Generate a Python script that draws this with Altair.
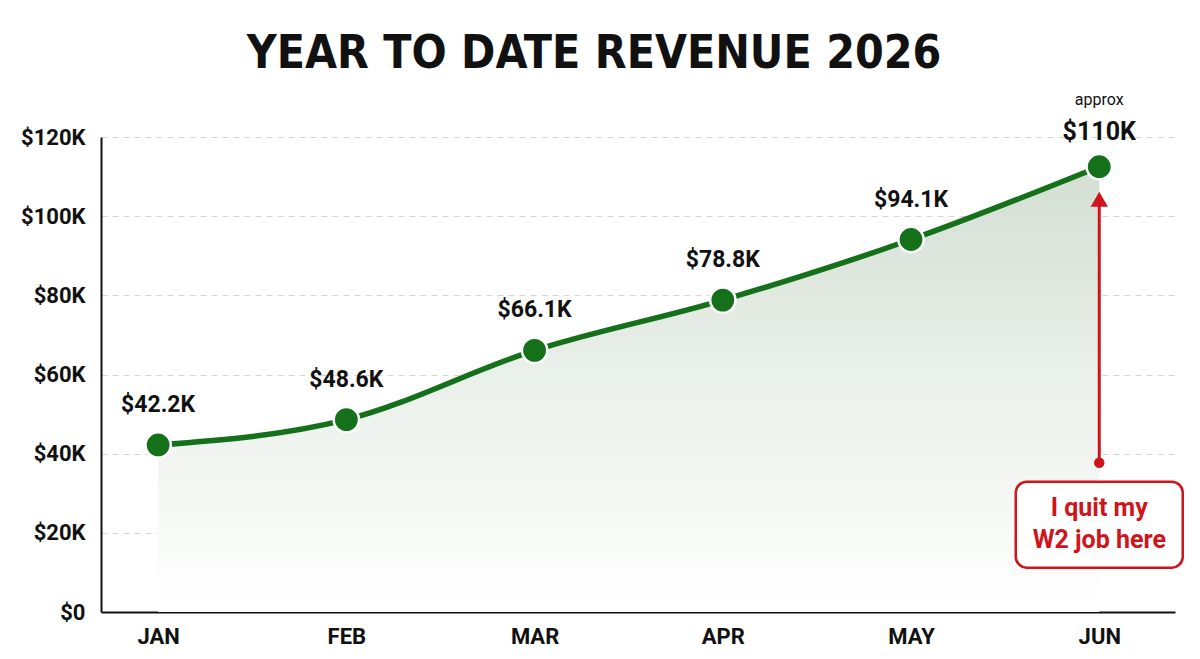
import altair as alt
import pandas as pd

months = ["JAN", "FEB", "MAR", "APR", "MAY", "JUN"]
revenue_k = [42.2, 48.6, 66.1, 78.8, 94.1, 112.5]
value_labels = ["$42.2K", "$48.6K", "$66.1K", "$78.8K", "$94.1K", "$110K"]
y_ticks = [0, 20, 40, 60, 80, 100, 120]

# annotation (in thousands of dollars, on the JUN column)
note_month = ["JUN"]
arrow_from_k = [37.7]
arrow_to_k = [104.0]
arrow_head_k = [104.3]
box_top_k = [32.9]
box_bottom_k = [11.2]
note_lines = ["I quit my", "W2 job here"]
note_line_k = [26.3, 18.2]
approx_text = ["approx"]

GREEN = "#15701a"
RED = "#d0141c"
FONT = "Roboto"

df = pd.DataFrame({"month": months, "rev": revenue_k, "label": value_labels})
main = df.iloc[:5]
last = df.iloc[5:]

x_enc = alt.X("month:N", sort=months,
              scale=alt.Scale(type="point", padding=0.353, align=0.43),
              axis=alt.Axis(title=None, labelAngle=0))
y_scale = alt.Scale(domain=[0, 120], nice=False, zero=True)
y_enc = alt.Y("rev:Q", scale=y_scale,
              axis=alt.Axis(title=None, values=y_ticks,
                            labelExpr="datum.value == 0 ? '$0' : '$' + datum.value + 'K'"))

base = alt.Chart(df)

area = base.mark_area(
    interpolate="monotone",
    color=alt.Gradient(
        gradient="linear",
        stops=[alt.GradientStop(color="#d3dfd3", offset=0),
               alt.GradientStop(color="#e9efe9", offset=0.45),
               alt.GradientStop(color="#ffffff", offset=1)],
        x1=0, x2=0, y1=0, y2=1,
    ),
).encode(x=x_enc, y=y_enc)

line = base.mark_line(interpolate="monotone", color=GREEN, strokeWidth=5.5).encode(x=x_enc, y=y_enc)

points = base.mark_point(filled=True, shape="circle", size=640, color=GREEN,
                         stroke="white", strokeWidth=2.5, opacity=1).encode(
    x=x_enc, y=y_enc)

labels = alt.Chart(main).mark_text(font=FONT, fontSize=23, fontWeight="bold",
                                   color="#111111", dy=-40, baseline="middle").encode(
    x=x_enc, y=y_enc, text="label:N")

label_last = alt.Chart(last).mark_text(font=FONT, fontSize=25, fontWeight="bold",
                                       color="#111111", dy=-35, baseline="middle").encode(
    x=x_enc, y=y_enc, text="label:N")

approx = alt.Chart(pd.DataFrame({"month": note_month, "rev": [revenue_k[5]], "t": approx_text})).mark_text(
    font=FONT, fontSize=16, color="#111111", dy=-67, baseline="middle").encode(
    x=x_enc, y=y_enc, text="t:N")

ann = pd.DataFrame({"month": note_month, "a": arrow_from_k, "b": arrow_to_k,
                    "h": arrow_head_k, "top": box_top_k, "bot": box_bottom_k})

arrow = alt.Chart(ann).mark_rule(color=RED, strokeWidth=3).encode(
    x=x_enc, y=alt.Y("a:Q", scale=y_scale), y2="b:Q")
arrow_head = alt.Chart(ann).mark_point(shape="triangle-up", filled=True, size=300,
                                       color=RED, opacity=1).encode(
    x=x_enc, y=alt.Y("h:Q", scale=y_scale))
arrow_dot = alt.Chart(ann).mark_point(shape="circle", filled=True, size=110,
                                      color=RED, opacity=1).encode(
    x=x_enc, y=alt.Y("a:Q", scale=y_scale))
box = alt.Chart(ann).mark_rect(width=167, cornerRadius=11, fill="white",
                               stroke=RED, strokeWidth=2.5).encode(
    x=x_enc, y=alt.Y("top:Q", scale=y_scale), y2="bot:Q")
note = alt.Chart(pd.DataFrame({"month": ["JUN", "JUN"], "yk": note_line_k, "t": note_lines})).mark_text(
    font=FONT, fontSize=25, fontWeight="bold", color=RED, baseline="middle").encode(
    x=x_enc, y=alt.Y("yk:Q", scale=y_scale), text="t:N")

chart = alt.layer(area, line, points, labels, label_last, approx,
                  arrow, arrow_head, arrow_dot, box, note).properties(
    width=1074, height=475,
    autosize=alt.AutoSizeParams(type="none"),
    padding={"left": 101, "top": 137, "right": 25, "bottom": 47},
    title=alt.TitleParams("YEAR TO DATE REVENUE 2026",
                          font="Liberation Sans Narrow, DejaVu Sans Condensed, Roboto",
                          fontSize=46, fontWeight="bold", color="#111111",
                          anchor="middle", offset=14, dx=-44),
    background="white",
).configure_view(stroke=None).configure_axis(
    labelFont=FONT, labelFontSize=22, labelFontWeight="bold", labelColor="#111111",
    domainColor="#111111", domainWidth=2, ticks=False,
).configure_axisY(
    grid=True, gridColor="#d6d6d6", gridDash=[6, 5], gridWidth=1, labelPadding=16,
).configure_axisX(
    grid=False, labelPadding=14,
)

chart.save("out.html", embed_options={"renderer": "svg", "actions": False})
